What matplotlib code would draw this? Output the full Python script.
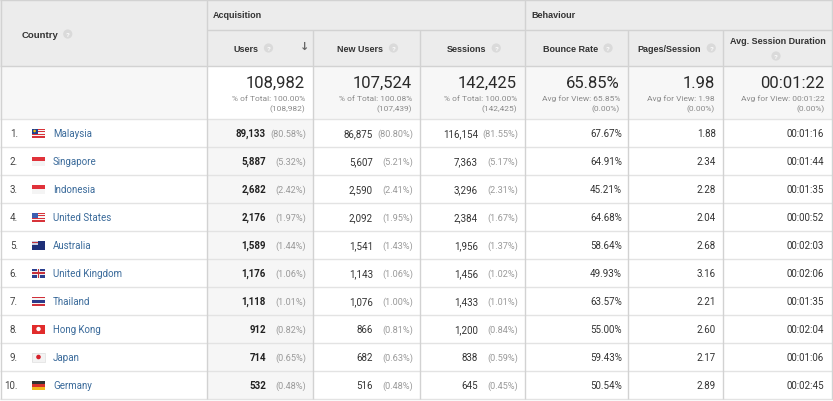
import matplotlib
matplotlib.use("Agg")
import matplotlib.pyplot as plt
from matplotlib.patches import Rectangle, Circle

# ---- data ----
countries = ['Malaysia', 'Singapore', 'Indonesia', 'United States', 'Australia',
             'United Kingdom', 'Thailand', 'Hong Kong', 'Japan', 'Germany']
flags = ['MY', 'SG', 'ID', 'US', 'AU', 'GB', 'TH', 'HK', 'JP', 'DE']
users = [89133, 5887, 2682, 2176, 1589, 1176, 1118, 912, 714, 532]
users_pct = [80.58, 5.32, 2.42, 1.97, 1.44, 1.06, 1.01, 0.82, 0.65, 0.48]
new_users = [86875, 5607, 2590, 2092, 1541, 1143, 1076, 866, 682, 516]
new_users_pct = [80.80, 5.21, 2.41, 1.95, 1.43, 1.06, 1.00, 0.81, 0.63, 0.48]
sessions = [116154, 7363, 3296, 2384, 1956, 1456, 1433, 1200, 838, 645]
sessions_pct = [81.55, 5.17, 2.31, 1.67, 1.37, 1.02, 1.01, 0.84, 0.59, 0.45]
bounce_rate = [67.67, 64.91, 45.21, 64.68, 58.64, 49.93, 63.57, 55.00, 59.43, 50.54]
pages_session = [1.88, 2.34, 2.28, 2.04, 2.68, 3.16, 2.21, 2.60, 2.17, 2.89]
avg_duration = ['00:01:16', '00:01:44', '00:01:35', '00:00:52', '00:02:03',
                '00:02:06', '00:01:35', '00:02:04', '00:01:06', '00:02:45']

metric_headers = ['Users', 'New Users', 'Sessions', 'Bounce Rate', 'Pages/Session',
                  'Avg. Session Duration']
group_headers = ['Acquisition', 'Behaviour']
totals = ['108,982', '107,524', '142,425', '65.85%', '1.98', '00:01:22']
totals_sub1 = ['% of Total: 100.00%', '% of Total: 100.08%', '% of Total: 100.00%',
               'Avg for View: 65.85%', 'Avg for View: 1.98', 'Avg for View: 00:01:22']
totals_sub2 = ['(108,982)', '(107,439)', '(142,425)', '(0.00%)', '(0.00%)', '(0.00%)']

# ---- layout (pixels) ----
W, H = 833, 402
col_edges = [0, 207, 313, 420, 525, 628, 723, 833]
hdr1, hdr2, tot_bottom, row_h = 31, 67, 120, 28

HEAD_BG = '#ececec'
TOT_BG = '#f7f7f7'
SORT_BG = '#f6f6f6'
VLINE = '#d2d2d2'
HLINE = '#e3e3e3'
LINK = '#3a6a9a'
DARK = '#333333'
GREY = '#8a8a8a'

FONT = ['Roboto', 'DejaVu Sans']
HFONT = ['Liberation Sans', 'DejaVu Sans']

fig = plt.figure(figsize=(W / 100, H / 100), dpi=100)
ax = fig.add_axes([0, 0, 1, 1])
ax.set_xlim(0, W)
ax.set_ylim(H, 0)
ax.axis('off')


def rect(x0, y0, x1, y1, color):
    ax.add_patch(Rectangle((x0, y0), x1 - x0, y1 - y0, facecolor=color,
                           edgecolor='none', zorder=0))


def hline(y, x0, x1, color=HLINE):
    ax.plot([x0, x1], [y, y], color=color, lw=1, zorder=1, solid_capstyle='butt')


def vline(x, y0, y1, color=VLINE):
    ax.plot([x, x], [y0, y1], color=color, lw=1, zorder=1, solid_capstyle='butt')


def help_icon(x, y):
    ax.add_patch(Circle((x, y), 4.6, facecolor='#dadada', edgecolor='none', zorder=2))
    ax.text(x, y + 0.3, '?', fontsize=4.5, color='white', ha='center', va='center',
            family=HFONT, fontweight='bold', zorder=3)


renderer = fig.canvas.get_renderer()


def text_right_edge(t):
    bb = t.get_window_extent(renderer=renderer)
    return ax.transData.inverted().transform((bb.x1, bb.y0))[0]


def draw_flag(code, x, y):
    w, h = 13, 9
    x0, y0 = x, y - h / 2

    def band(frac0, frac1, color, fx0=0, fx1=1):
        ax.add_patch(Rectangle((x0 + fx0 * w, y0 + frac0 * h), (fx1 - fx0) * w,
                               (frac1 - frac0) * h, facecolor=color,
                               edgecolor='none', zorder=2))

    if code in ('MY', 'US'):
        n = 7
        for i in range(n):
            band(i / n, (i + 1) / n, '#d8343a' if i % 2 == 0 else '#f6f6f6')
        band(0, 4 / 7, '#1f3f8f' if code == 'MY' else '#3d5fb0', 0, 0.45)
        if code == 'MY':
            ax.add_patch(Circle((x0 + 0.2 * w, y0 + 0.28 * h), 1.3,
                                facecolor='#f2c200', edgecolor='none', zorder=3))
    elif code in ('SG', 'ID'):
        band(0, 0.5, '#e0323a')
        band(0.5, 1, '#f4f4f4')
    elif code == 'AU':
        band(0, 1, '#1e2f78')
        band(0, 0.5, '#c8cce0', 0, 0.45)
        band(0.2, 0.3, '#c0303a', 0, 0.45)
    elif code == 'GB':
        band(0, 1, '#2a3f8f')
        band(0.3, 0.7, '#eeeeee')
        band(0, 1, '#eeeeee', 0.38, 0.62)
        band(0.4, 0.6, '#c8303a')
        band(0, 1, '#c8303a', 0.44, 0.56)
    elif code == 'TH':
        band(0, 1 / 6, '#d0303a')
        band(1 / 6, 2 / 6, '#f4f4f4')
        band(2 / 6, 4 / 6, '#2b3a8a')
        band(4 / 6, 5 / 6, '#f4f4f4')
        band(5 / 6, 1, '#d0303a')
    elif code == 'HK':
        band(0, 1, '#e12c2c')
        ax.add_patch(Circle((x0 + w / 2, y0 + h / 2), 2.2, facecolor='white',
                            edgecolor='none', zorder=3))
    elif code == 'JP':
        band(0, 1, '#f3f3f3')
        ax.add_patch(Rectangle((x0, y0), w, h, facecolor='none', edgecolor='#dddddd',
                               lw=0.5, zorder=3))
        ax.add_patch(Circle((x0 + w / 2, y0 + h / 2), 2.3, facecolor='#d6202a',
                            edgecolor='none', zorder=3))
    elif code == 'DE':
        band(0, 1 / 3, '#333333')
        band(1 / 3, 2 / 3, '#d8312b')
        band(2 / 3, 1, '#f0b820')


# ---- backgrounds ----
rect(0, 0, W, hdr2, HEAD_BG)
rect(0, hdr2, W, tot_bottom, TOT_BG)
rect(col_edges[1], hdr2, col_edges[2], tot_bottom, 'white')
n_rows = len(countries)
table_bottom = tot_bottom + n_rows * row_h
rect(0, tot_bottom, W, table_bottom, 'white')
rect(col_edges[1], tot_bottom, col_edges[2], table_bottom, SORT_BG)

# ---- grid lines ----
hline(0.5, 0, W, VLINE)
hline(hdr1, col_edges[1], W, VLINE)
hline(hdr2, 0, W, VLINE)
hline(tot_bottom, 0, W, HLINE)
for i in range(1, n_rows + 1):
    hline(tot_bottom + i * row_h, 0, W, HLINE)
vline(0.5, 0, table_bottom)
vline(W - 0.5, 0, table_bottom)
vline(col_edges[1], 0, table_bottom)
vline(col_edges[4], 0, table_bottom)
for x in [col_edges[2], col_edges[3], col_edges[5], col_edges[6]]:
    vline(x, hdr1, table_bottom)

# ---- headers ----
t = ax.text(22, 35, 'Country', fontsize=6.8, fontweight='bold', color=DARK,
            family=HFONT, ha='left', va='center')
help_icon(text_right_edge(t) + 9, 35)
ax.text(col_edges[1] + 6, 16, group_headers[0], fontsize=6.5, fontweight='bold',
        color=DARK, family=HFONT, ha='left', va='center')
ax.text(col_edges[4] + 6, 16, group_headers[1], fontsize=6.5, fontweight='bold',
        color=DARK, family=HFONT, ha='left', va='center')

for j, label in enumerate(metric_headers):
    cx = (col_edges[j + 1] + col_edges[j + 2]) / 2
    if label == 'Avg. Session Duration':
        ax.text(cx, 42, label, fontsize=6.5, fontweight='bold', color=DARK,
                family=HFONT, ha='center', va='center')
        help_icon(cx - 2, 57)
        continue
    shift = 14 if j == 0 else 6
    t = ax.text(cx - shift, 49, label, fontsize=6.5, fontweight='bold', color=DARK,
                family=HFONT, ha='center', va='center')
    help_icon(text_right_edge(t) + 10, 49)
ax.text(col_edges[2] - 8, 47, '\u2193', fontsize=8, color='#666666',
        family=['DejaVu Sans'], ha='center', va='center', fontweight='bold')

# ---- totals row ----
for j in range(len(totals)):
    rx = col_edges[j + 2] - 8
    ax.text(rx, 83, totals[j], fontsize=12, color='#2a2a2a', family=FONT,
            fontweight='normal', ha='right', va='center')
    ax.text(rx, 99, totals_sub1[j], fontsize=6.0, color=GREY, family=FONT,
            ha='right', va='center')
    ax.text(rx, 109, totals_sub2[j], fontsize=6.0, color=GREY, family=FONT,
            ha='right', va='center')

# ---- data rows ----
for i in range(n_rows):
    y = tot_bottom + (i + 0.5) * row_h
    ax.text(18, y, f'{i + 1}.', fontsize=7, color='#444444', family=FONT,
            ha='right', va='center')
    draw_flag(flags[i], 32, y)
    ax.text(53, y, countries[i], fontsize=7, color=LINK, family=FONT,
            ha='left', va='center')

    pairs = [(users, users_pct), (new_users, new_users_pct), (sessions, sessions_pct)]
    for j, (vals, pcts) in enumerate(pairs):
        right = col_edges[j + 2]
        ax.text(right - 47, y, f'{vals[i]:,}', fontsize=7, color='#222222' if j == 0 else DARK,
                fontweight='bold' if j == 0 else 'normal', family=FONT,
                ha='right', va='center')
        ax.text(right - 7, y, f'({pcts[i]:.2f}%)', fontsize=6.6, color='#9a9a9a',
                family=FONT, ha='right', va='center')

    ax.text(col_edges[5] - 6, y, f'{bounce_rate[i]:.2f}%', fontsize=7, color=DARK,
            family=FONT, ha='right', va='center')
    ax.text(col_edges[6] - 7, y, f'{pages_session[i]:.2f}', fontsize=7, color=DARK,
            family=FONT, ha='right', va='center')
    ax.text(col_edges[7] - 9, y, avg_duration[i], fontsize=7, color=DARK,
            family=FONT, ha='right', va='center')

fig.savefig('out.png', dpi=100)
